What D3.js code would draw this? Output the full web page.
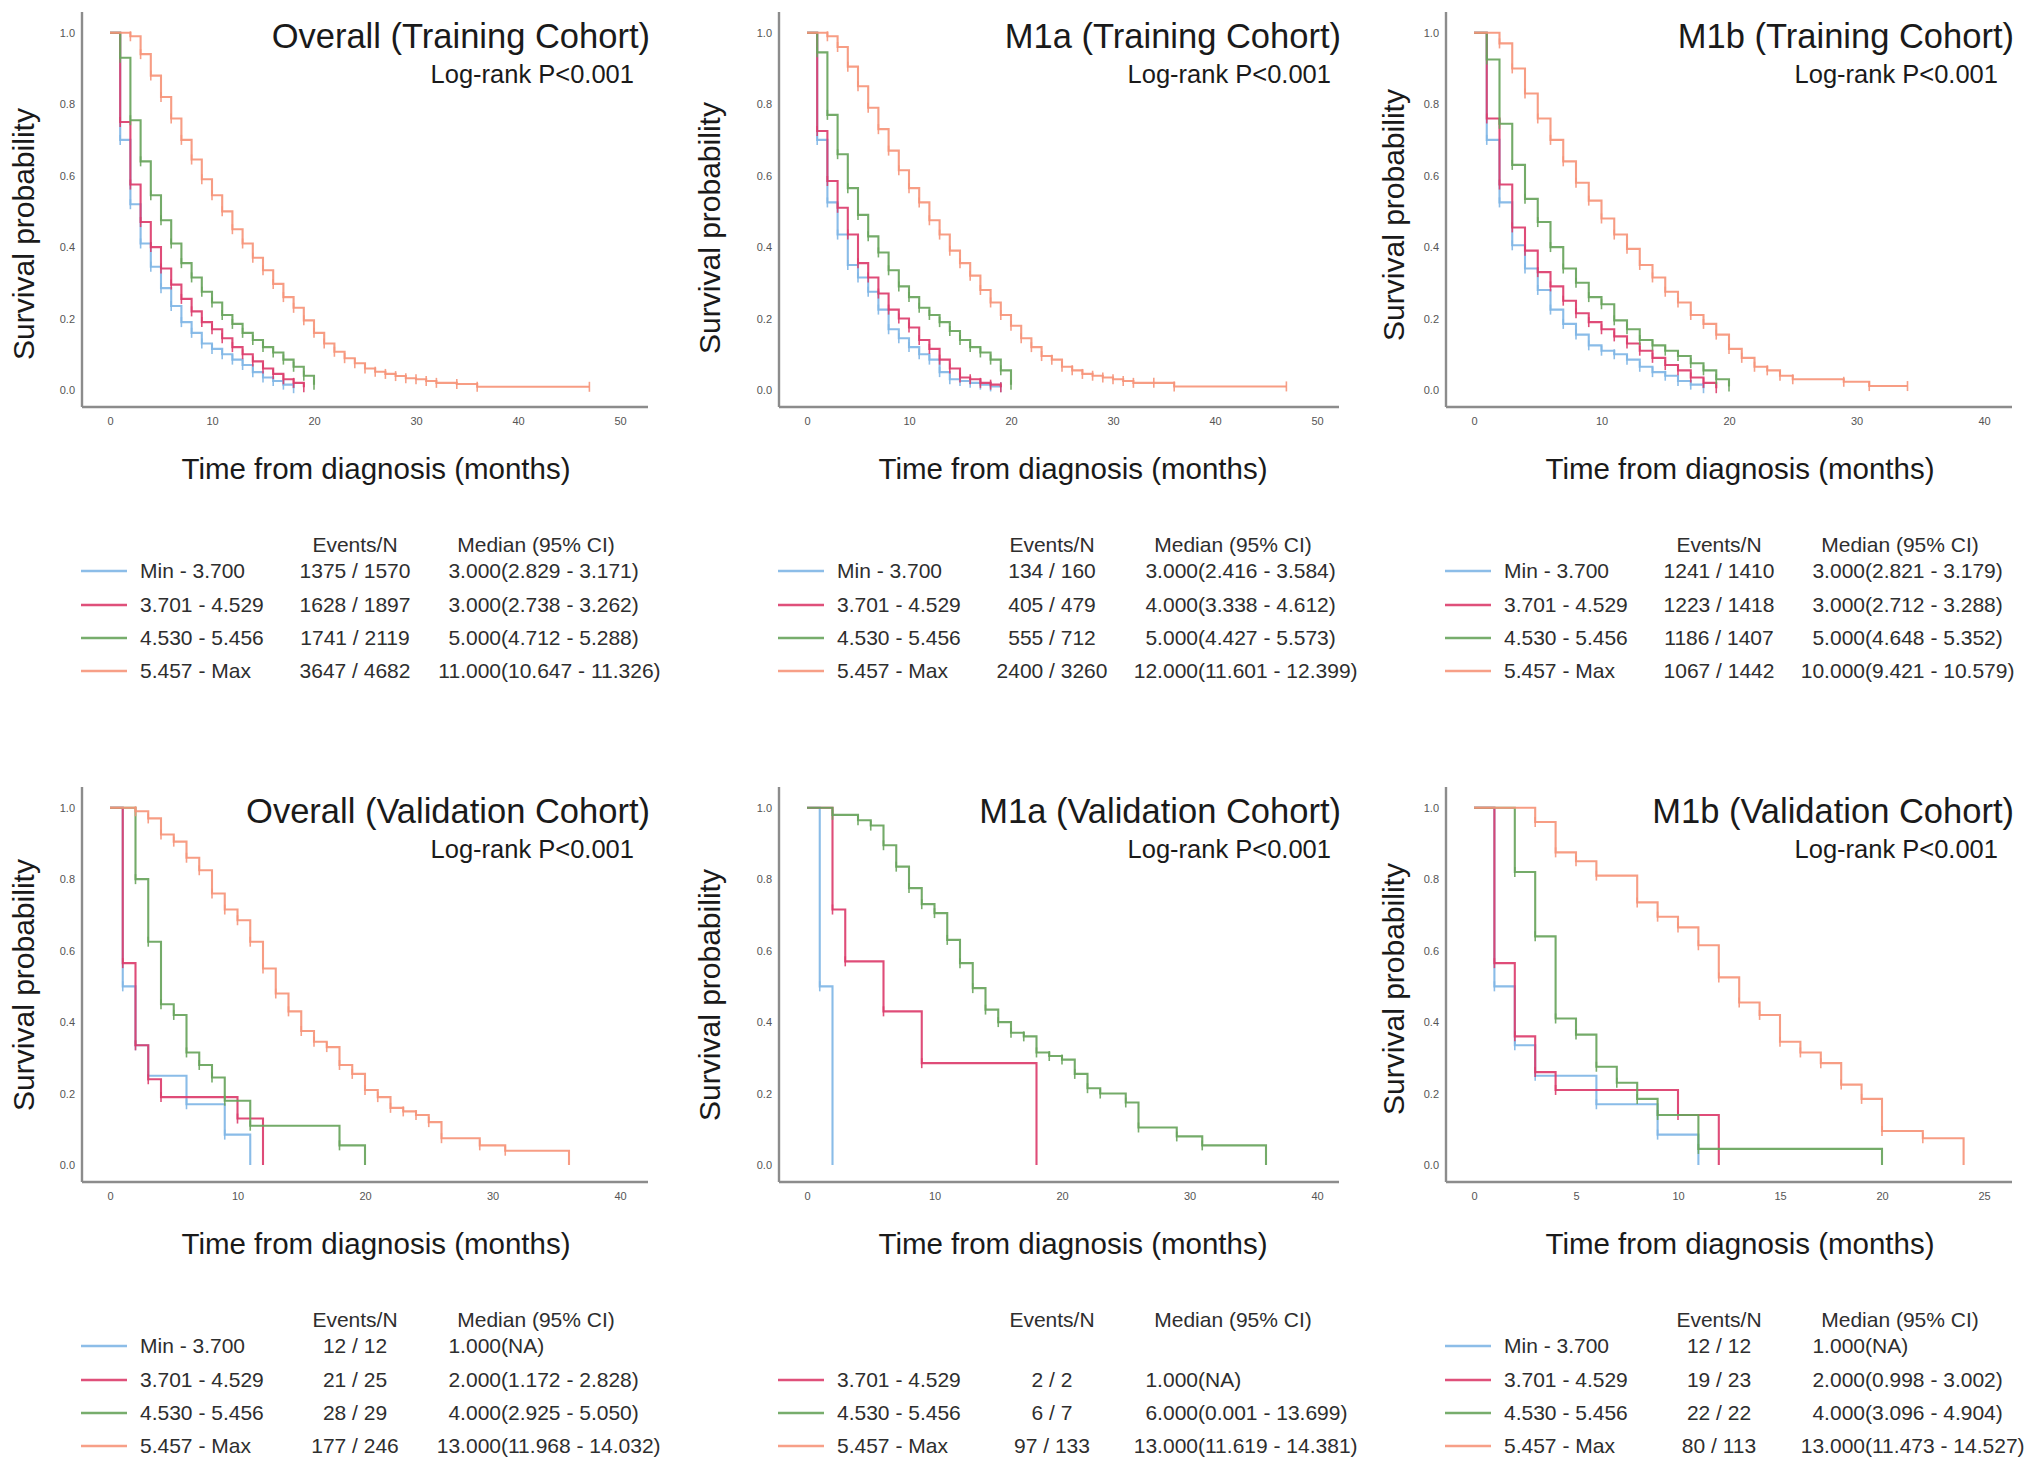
<!DOCTYPE html>
<html>
<head>
<meta charset="utf-8">
<script src="https://cdn.jsdelivr.net/npm/d3@7"></script>
<style>
  html, body { margin: 0; padding: 0; background: #ffffff; }
  svg { display: block; }
</style>
</head>
<body>
<script>
// ---------------- DATA ----------------
const groupLabels = ["Min - 3.700", "3.701 - 4.529", "4.530 - 5.456", "5.457 - Max"];
const titles = ["Overall (Training Cohort)", "M1a (Training Cohort)", "M1b (Training Cohort)",
                "Overall (Validation Cohort)", "M1a (Validation Cohort)", "M1b (Validation Cohort)"];
const pValueText = "Log-rank P<0.001";
const xAxisTitle = "Time from diagnosis (months)";
const yAxisTitle = "Survival probability";
const xMaxes = [50, 50, 40, 40, 40, 25];
const xTickSteps = [10, 10, 10, 10, 10, 5];
const yTicks = [0, 0.2, 0.4, 0.6, 0.8, 1.0];

// Kaplan-Meier step points [month, survival]
// Overall (Training)
const trainAllG1 = [[0,1],[1,0.70],[2,0.52],[3,0.41],[4,0.345],[5,0.285],[6,0.235],[7,0.19],[8,0.16],[9,0.13],[10,0.115],[11,0.10],[12,0.085],[13,0.07],[14,0.05],[15,0.035],[16,0.025],[17,0.015],[18,0.005]];
const trainAllG2 = [[0,1],[1,0.75],[2,0.575],[3,0.47],[4,0.40],[5,0.34],[6,0.295],[7,0.255],[8,0.22],[9,0.19],[10,0.17],[11,0.145],[12,0.12],[13,0.10],[14,0.08],[15,0.06],[16,0.045],[17,0.03],[18,0.02],[19,0.008]];
const trainAllG3 = [[0,1],[1,0.93],[2,0.755],[3,0.64],[4,0.545],[5,0.475],[6,0.41],[7,0.355],[8,0.315],[9,0.275],[10,0.245],[11,0.21],[12,0.185],[13,0.16],[14,0.14],[15,0.12],[16,0.105],[17,0.085],[18,0.065],[19,0.04],[20,0.015]];
const trainAllG4 = [[0,1],[2,0.99],[3,0.94],[4,0.88],[5,0.82],[6,0.76],[7,0.70],[8,0.645],[9,0.59],[10,0.545],[11,0.50],[12,0.45],[13,0.41],[14,0.37],[15,0.335],[16,0.297],[17,0.26],[18,0.23],[19,0.195],[20,0.16],[21,0.13],[22,0.107],[23,0.089],[24,0.075],[25,0.06],[26,0.051],[27,0.045],[28,0.039],[29,0.033],[30,0.03],[31,0.025],[32,0.02],[34,0.017],[36,0.009],[47,0.009]];
// M1a (Training)
const trainM1aG1 = [[0,1],[1,0.70],[2,0.525],[3,0.435],[4,0.35],[5,0.315],[6,0.275],[7,0.225],[8,0.17],[9,0.145],[10,0.12],[11,0.10],[12,0.085],[13,0.05],[14,0.03],[15,0.025],[16,0.02],[17,0.015],[18,0.01],[19,0.008]];
const trainM1aG2 = [[0,1],[1,0.725],[2,0.585],[3,0.51],[4,0.435],[5,0.355],[6,0.315],[7,0.27],[8,0.225],[9,0.20],[10,0.175],[11,0.14],[12,0.115],[13,0.085],[14,0.06],[15,0.035],[16,0.03],[17,0.02],[18,0.015],[19,0.008]];
const trainM1aG3 = [[0,1],[1,0.945],[2,0.77],[3,0.66],[4,0.565],[5,0.49],[6,0.43],[7,0.385],[8,0.335],[9,0.29],[10,0.26],[11,0.23],[12,0.21],[13,0.19],[14,0.165],[15,0.14],[16,0.12],[17,0.105],[18,0.085],[19,0.055],[20,0.015]];
const trainM1aG4 = [[0,1],[2,0.99],[3,0.96],[4,0.905],[5,0.85],[6,0.79],[7,0.73],[8,0.67],[9,0.615],[10,0.565],[11,0.525],[12,0.475],[13,0.435],[14,0.39],[15,0.355],[16,0.32],[17,0.28],[18,0.245],[19,0.21],[20,0.18],[21,0.145],[22,0.12],[23,0.095],[24,0.085],[25,0.065],[26,0.055],[27,0.045],[28,0.04],[29,0.035],[30,0.03],[31,0.025],[32,0.02],[34,0.02],[36,0.01],[47,0.01]];
// M1b (Training)
const trainM1bG1 = [[0,1],[1,0.70],[2,0.525],[3,0.405],[4,0.34],[5,0.28],[6,0.225],[7,0.185],[8,0.155],[9,0.125],[10,0.11],[11,0.10],[12,0.085],[13,0.065],[14,0.05],[15,0.04],[16,0.025],[17,0.015],[18,0.005]];
const trainM1bG2 = [[0,1],[1,0.76],[2,0.575],[3,0.455],[4,0.39],[5,0.33],[6,0.29],[7,0.25],[8,0.215],[9,0.19],[10,0.17],[11,0.15],[12,0.13],[13,0.11],[14,0.09],[15,0.07],[16,0.055],[17,0.035],[18,0.02],[19,0.005]];
const trainM1bG3 = [[0,1],[1,0.925],[2,0.745],[3,0.63],[4,0.535],[5,0.47],[6,0.40],[7,0.34],[8,0.30],[9,0.26],[10,0.24],[11,0.195],[12,0.17],[13,0.14],[14,0.125],[15,0.11],[16,0.095],[17,0.075],[18,0.055],[19,0.03],[20,0.01]];
const trainM1bG4 = [[0,1],[2,0.97],[3,0.90],[4,0.83],[5,0.76],[6,0.70],[7,0.64],[8,0.58],[9,0.53],[10,0.48],[11,0.435],[12,0.395],[13,0.35],[14,0.315],[15,0.275],[16,0.245],[17,0.21],[18,0.185],[19,0.155],[20,0.115],[21,0.09],[22,0.065],[23,0.055],[24,0.04],[25,0.03],[29,0.023],[31,0.011],[34,0.011]];
// Overall (Validation)
const validAllG1 = [[0,1],[1,0.5],[2,0.335],[3,0.25],[6,0.17],[9,0.085],[11,0]];
const validAllG2 = [[0,1],[1,0.565],[2,0.335],[3,0.24],[4,0.19],[10,0.13],[12,0]];
const validAllG3 = [[0,1],[2,0.80],[3,0.625],[4,0.45],[5,0.42],[6,0.315],[7,0.28],[8,0.245],[9,0.18],[11,0.11],[18,0.055],[20,0]];
const validAllG4 = [[0,1],[2,0.99],[3,0.97],[4,0.925],[5,0.905],[6,0.86],[7,0.825],[8,0.76],[9,0.715],[10,0.685],[11,0.625],[12,0.55],[13,0.48],[14,0.43],[15,0.375],[16,0.345],[17,0.33],[18,0.28],[19,0.255],[20,0.21],[21,0.19],[22,0.16],[23,0.15],[24,0.14],[25,0.12],[26,0.075],[29,0.055],[31,0.04],[36,0]];
// M1a (Validation) — plotted with the first three colours
const validM1aG1 = [[0,1],[1,0.5],[2,0]];
const validM1aG2 = [[0,1],[2,0.715],[3,0.57],[6,0.43],[9,0.285],[18,0]];
const validM1aG3 = [[0,1],[2,0.98],[4,0.965],[5,0.95],[6,0.895],[7,0.835],[8,0.775],[9,0.73],[10,0.705],[11,0.63],[12,0.565],[13,0.495],[14,0.435],[15,0.40],[16,0.37],[17,0.36],[18,0.315],[19,0.305],[20,0.295],[21,0.255],[22,0.215],[23,0.20],[25,0.175],[26,0.105],[29,0.08],[31,0.055],[36,0]];
// M1b (Validation)
const validM1bG1 = [[0,1],[1,0.5],[2,0.335],[3,0.25],[6,0.17],[9,0.085],[11,0]];
const validM1bG2 = [[0,1],[1,0.565],[2,0.36],[3,0.26],[4,0.21],[10,0.14],[12,0]];
const validM1bG3 = [[0,1],[2,0.82],[3,0.64],[4,0.41],[5,0.365],[6,0.275],[7,0.23],[8,0.185],[9,0.14],[11,0.045],[20,0]];
const validM1bG4 = [[0,1],[3,0.96],[4,0.875],[5,0.85],[6,0.81],[8,0.735],[9,0.695],[10,0.665],[11,0.615],[12,0.525],[13,0.455],[14,0.42],[15,0.345],[16,0.315],[17,0.285],[18,0.225],[19,0.185],[20,0.095],[22,0.075],[24,0]];

// Legend tables
const eventsTrainAll = ["1375 / 1570", "1628 / 1897", "1741 / 2119", "3647 / 4682"];
const mediansTrainAll = [["3.000","(2.829 - 3.171)"],["3.000","(2.738 - 3.262)"],["5.000","(4.712 - 5.288)"],["11.000","(10.647 - 11.326)"]];
const eventsTrainM1a = ["134 / 160", "405 / 479", "555 / 712", "2400 / 3260"];
const mediansTrainM1a = [["3.000","(2.416 - 3.584)"],["4.000","(3.338 - 4.612)"],["5.000","(4.427 - 5.573)"],["12.000","(11.601 - 12.399)"]];
const eventsTrainM1b = ["1241 / 1410", "1223 / 1418", "1186 / 1407", "1067 / 1442"];
const mediansTrainM1b = [["3.000","(2.821 - 3.179)"],["3.000","(2.712 - 3.288)"],["5.000","(4.648 - 5.352)"],["10.000","(9.421 - 10.579)"]];
const eventsValidAll = ["12 / 12", "21 / 25", "28 / 29", "177 / 246"];
const mediansValidAll = [["1.000","(NA)"],["2.000","(1.172 - 2.828)"],["4.000","(2.925 - 5.050)"],["13.000","(11.968 - 14.032)"]];
const eventsValidM1a = [null, "2 / 2", "6 / 7", "97 / 133"];
const mediansValidM1a = [null, ["1.000","(NA)"],["6.000","(0.001 - 13.699)"],["13.000","(11.619 - 14.381)"]];
const eventsValidM1b = ["12 / 12", "19 / 23", "22 / 22", "80 / 113"];
const mediansValidM1b = [["1.000","(NA)"],["2.000","(0.998 - 3.002)"],["4.000","(3.096 - 4.904)"],["13.000","(11.473 - 14.527)"]];
const legendHeaders = ["Events/N", "Median (95% CI)"];

// ---------------- STYLE / LAYOUT ----------------
const colors = ["#80b6e6", "#dc3d6c", "#68a45c", "#f6957a"];
const FONT = "'Liberation Sans', Arial, Helvetica, sans-serif";
const colX = [82, 779, 1446];
const colW = [566, 560, 566];
const rowY = [0, 775];
const yLabDx = [-48, -59, -42];
const yLabCy = [[234, 228, 215], [210, 220, 214]];

const panels = [
  { title: titles[0], xMax: xMaxes[0], step: xTickSteps[0], curves: [trainAllG1, trainAllG2, trainAllG3, trainAllG4], curveCol: [0,1,2,3], events: eventsTrainAll, medians: mediansTrainAll },
  { title: titles[1], xMax: xMaxes[1], step: xTickSteps[1], curves: [trainM1aG1, trainM1aG2, trainM1aG3, trainM1aG4], curveCol: [0,1,2,3], events: eventsTrainM1a, medians: mediansTrainM1a },
  { title: titles[2], xMax: xMaxes[2], step: xTickSteps[2], curves: [trainM1bG1, trainM1bG2, trainM1bG3, trainM1bG4], curveCol: [0,1,2,3], events: eventsTrainM1b, medians: mediansTrainM1b },
  { title: titles[3], xMax: xMaxes[3], step: xTickSteps[3], curves: [validAllG1, validAllG2, validAllG3, validAllG4], curveCol: [0,1,2,3], events: eventsValidAll, medians: mediansValidAll },
  { title: titles[4], xMax: xMaxes[4], step: xTickSteps[4], curves: [validM1aG1, validM1aG2, validM1aG3], curveCol: [0,1,2], events: eventsValidM1a, medians: mediansValidM1a },
  { title: titles[5], xMax: xMaxes[5], step: xTickSteps[5], curves: [validM1bG1, validM1bG2, validM1bG3, validM1bG4], curveCol: [0,1,2,3], events: eventsValidM1b, medians: mediansValidM1b }
];

const svg = d3.select("body").append("svg")
  .attr("width", 2031).attr("height", 1470)
  .style("font-family", FONT);
svg.append("rect").attr("width", 2031).attr("height", 1470).attr("fill", "#fff");

panels.forEach((p, i) => {
  const col = i % 3, row = Math.floor(i / 3);
  const ax = colX[col], oy = rowY[row], w = colW[col];
  const g = svg.append("g");

  const x = d3.scaleLinear().domain([0, p.xMax]).range([ax + 28, ax + 538]);
  const y = d3.scaleLinear().domain([0, 1]).range([oy + 390, oy + 32.7]);

  const xa = g.append("g").attr("transform", `translate(0,${oy + 407})`)
    .call(d3.axisBottom(x).tickValues(d3.range(0, p.xMax + 0.001, p.step)).tickSize(0).tickPadding(10));
  const ya = g.append("g").attr("transform", `translate(${ax},0)`)
    .call(d3.axisLeft(y).tickValues(yTicks).tickFormat(d3.format(".1f")).tickSize(0).tickPadding(7));
  [xa, ya].forEach(a => {
    a.select(".domain").remove();
    a.selectAll("text").attr("font-size", 11).attr("fill", "#555").style("font-family", FONT);
  });

  g.append("line").attr("x1", ax).attr("x2", ax).attr("y1", oy + 12).attr("y2", oy + 407)
    .attr("stroke", "#8c8c8c").attr("stroke-width", 2.4);
  g.append("line").attr("x1", ax).attr("x2", ax + w).attr("y1", oy + 407).attr("y2", oy + 407)
    .attr("stroke", "#8c8c8c").attr("stroke-width", 2.4);

  const line = d3.line().x(d => x(d[0])).y(d => y(d[1])).curve(d3.curveStepAfter);
  p.curves.forEach((c, k) => {
    const color = colors[p.curveCol[k]];
    g.append("path").datum(c).attr("d", line)
      .attr("fill", "none").attr("stroke", color).attr("stroke-width", 2.1)
      .attr("stroke-opacity", 0.92);
    g.selectAll(null).data(c.filter((d, j) => j > 0 && d[1] > 0)).enter().append("line")
      .attr("x1", d => x(d[0])).attr("x2", d => x(d[0]))
      .attr("y1", d => y(d[1]) - 5).attr("y2", d => y(d[1]) + 5)
      .attr("stroke", color).attr("stroke-width", 1.6).attr("stroke-opacity", 0.9);
  });

  g.append("text").attr("x", ax + w + 2).attr("y", oy + 48).attr("text-anchor", "end")
    .attr("font-size", 34.5).attr("fill", "#1a1a1a").text(p.title);
  g.append("text").attr("x", ax + 552).attr("y", oy + 83).attr("text-anchor", "end")
    .attr("font-size", 25.5).attr("fill", "#1a1a1a").text(pValueText);

  g.append("text").attr("transform", `translate(${ax + yLabDx[col]},${oy + yLabCy[row][col]}) rotate(-90)`)
    .attr("text-anchor", "middle").attr("font-size", 30).attr("fill", "#1a1a1a").text(yAxisTitle);
  g.append("text").attr("x", ax + 294).attr("y", oy + 479).attr("text-anchor", "middle")
    .attr("font-size", 29.5).attr("fill", "#1a1a1a").text(xAxisTitle);

  const lg = g.append("g").attr("font-size", 21).attr("fill", "#2e2e2e");
  lg.append("text").attr("x", ax + 273).attr("y", oy + 552).attr("text-anchor", "middle").text(legendHeaders[0]);
  lg.append("text").attr("x", ax + 454).attr("y", oy + 552).attr("text-anchor", "middle").text(legendHeaders[1]);
  const rowBase = [578, 612, 645, 678];
  groupLabels.forEach((lab, r) => {
    if (p.events[r] == null) return;
    const by = oy + rowBase[r];
    lg.append("line").attr("x1", ax - 1).attr("x2", ax + 45).attr("y1", by - 7).attr("y2", by - 7)
      .attr("stroke", colors[r]).attr("stroke-width", 2.4).attr("stroke-opacity", 0.9);
    lg.append("text").attr("x", ax + 58).attr("y", by).text(lab);
    lg.append("text").attr("x", ax + 273).attr("y", by).attr("text-anchor", "middle").text(p.events[r]);
    lg.append("text").attr("x", ax + 419).attr("y", by).attr("text-anchor", "end").text(p.medians[r][0]);
    lg.append("text").attr("x", ax + 419).attr("y", by).attr("text-anchor", "start").text(p.medians[r][1]);
  });
});
</script>
</body>
</html>
